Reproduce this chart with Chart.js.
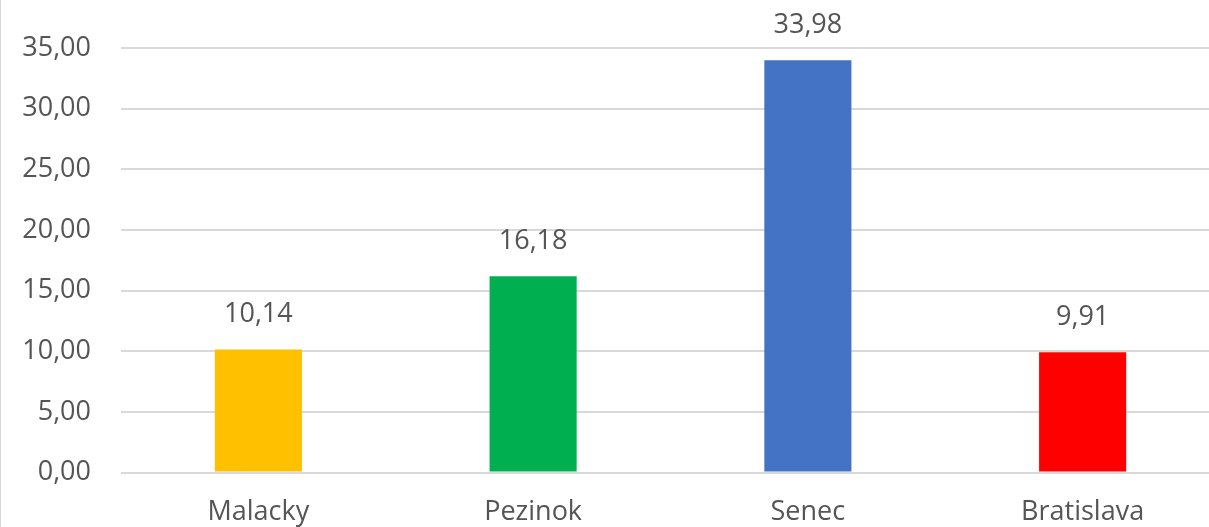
<!DOCTYPE html>
<html>
<head>
<meta charset="utf-8">
<script src="https://cdn.jsdelivr.net/npm/chart.js@4/dist/chart.umd.min.js"></script>
<style>
  html,body{margin:0;padding:0;background:#fff;overflow:hidden;}
  #wrap{position:relative;width:1220px;height:527px;border-left:1px solid #d9d9d9;box-sizing:border-box;}
</style>
</head>
<body>
<div id="wrap"><canvas id="chart" width="1219" height="527"></canvas></div>
<script>
const categories=["Malacky","Pezinok","Senec","Bratislava"];
const values=[10.14,16.18,33.98,9.91];
const barColors=["#FFC000","#00B050","#4472C4","#FF0000"];
const yTicks=[0,5,10,15,20,25,30,35];

const textColor="#555555";
const fontFamily="'Open Sans', sans-serif";

function fmt(v){
    return v.toFixed(2).replace(".",",");
}

// value labels above bars
const valueLabels={
    id:"valueLabels",
    afterDatasetsDraw(c){
        const ctx=c.ctx;
        const meta=c.getDatasetMeta(0);
        ctx.save();
        ctx.font="27px "+fontFamily;
        ctx.fillStyle=textColor;
        ctx.textAlign="center";
        ctx.textBaseline="middle";
        meta.data.forEach((bar,i)=>{
            ctx.fillText(fmt(values[i]),bar.x,bar.y-35);
        });
        ctx.restore();
    }
};

new Chart(document.getElementById("chart"),{
    type:"bar",
    data:{
        labels:categories,
        datasets:[{
            data:values,
            backgroundColor:barColors,
            borderWidth:0,
            barPercentage:0.317,
            categoryPercentage:1
        }]
    },
    options:{
        responsive:false,
        animation:false,
        layout:{padding:{top:48,right:0,bottom:0,left:0}},
        plugins:{legend:{display:false},tooltip:{enabled:false}},
        scales:{
            x:{
                grid:{display:false},
                border:{display:false},
                ticks:{color:textColor,font:{family:fontFamily,size:27},padding:16},
                afterFit(s){s.height=54.5;}
            },
            y:{
                min:0,max:35,
                afterBuildTicks(s){s.ticks=yTicks.map(v=>({value:v}));},
                grid:{color:"#d9d9d9",lineWidth:2,drawTicks:false},
                border:{display:false},
                ticks:{color:textColor,font:{family:fontFamily,size:27},padding:30,callback:v=>fmt(v)},
                afterFit(s){s.width=120;}
            }
        }
    },
    plugins:[valueLabels]
});
</script>
</body>
</html>
